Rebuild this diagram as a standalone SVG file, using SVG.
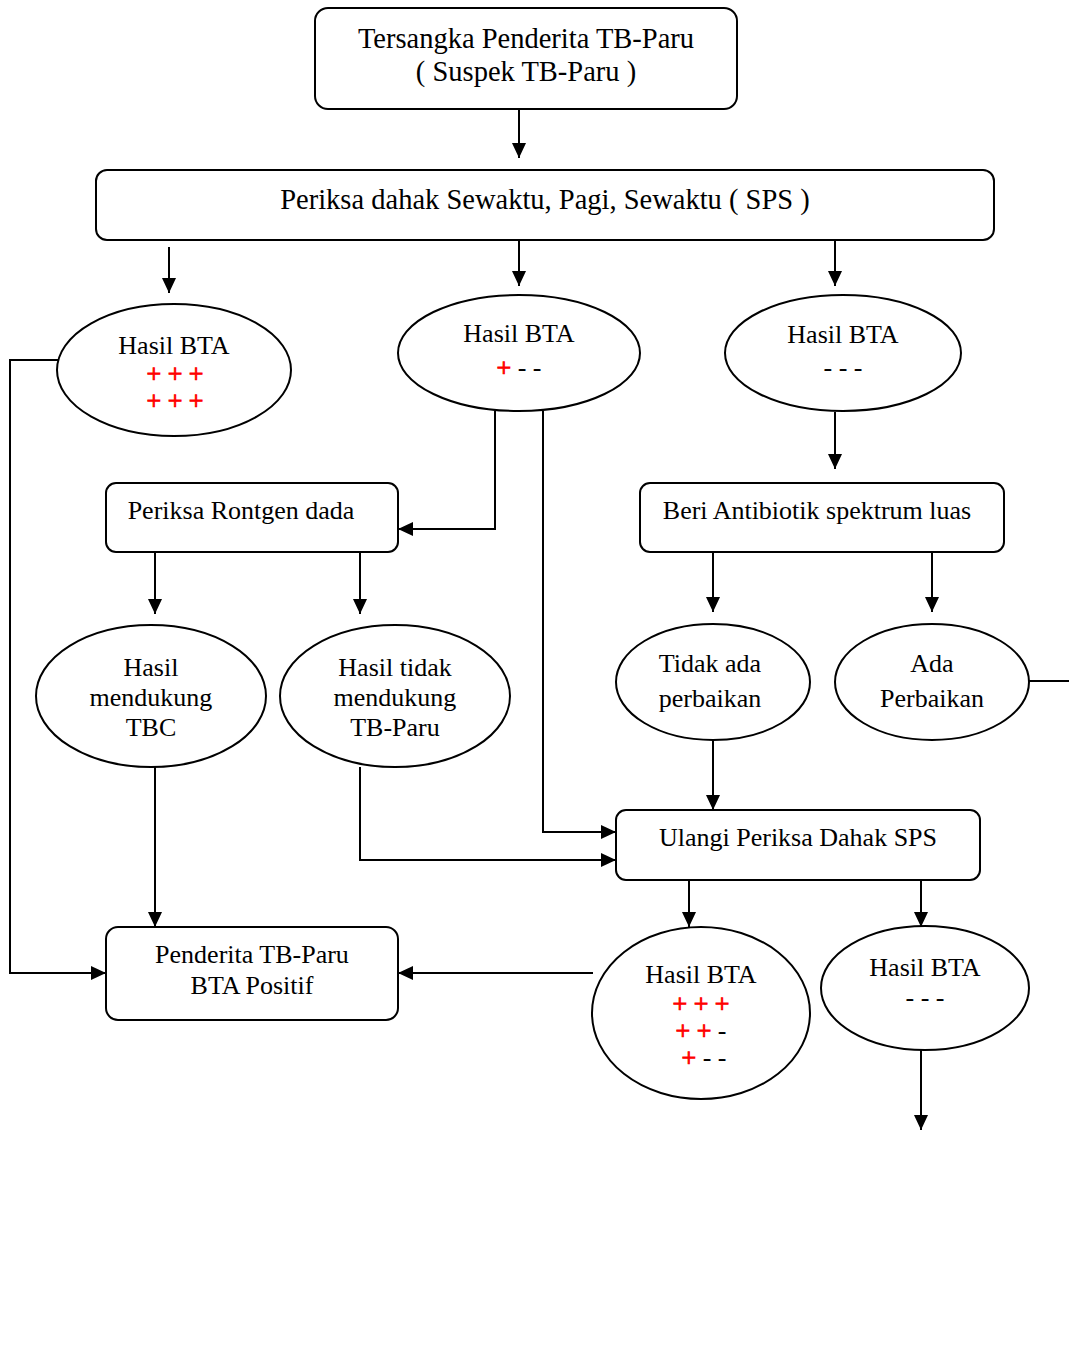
<svg xmlns="http://www.w3.org/2000/svg" width="1069" height="1364" viewBox="0 0 1069 1364">
  <style>
    .box { fill: #fff; stroke: #000; stroke-width: 2; }
    .ell { fill: #fff; stroke: #000; stroke-width: 2; }
    .t { font-family: "Liberation Serif", "Times New Roman", serif; font-size: 26px; fill: #000; text-anchor: middle; }
    .big { font-size: 28.5px; }
    .r { fill: #ff0000; stroke: #ff0000; stroke-width: 0.9; }
    .ln { fill: none; stroke: #000; stroke-width: 2; }
    .arr { fill: none; stroke: #000; stroke-width: 2; marker-end: url(#ah); }
  </style>
  <defs>
    <marker id="ah" markerUnits="userSpaceOnUse" markerWidth="16" markerHeight="14" refX="15" refY="7" orient="auto">
      <path d="M0,0 L15,7 L0,14 Z" fill="#000"/>
    </marker>
  </defs>
  <rect width="1069" height="1364" fill="#fff"/>

  <!-- connectors -->
  <g id="connectors">
    <line class="arr" x1="519" y1="109" x2="519" y2="158"/>
    <line class="arr" x1="169" y1="247" x2="169" y2="293"/>
    <line class="arr" x1="519" y1="240" x2="519" y2="286"/>
    <line class="arr" x1="835" y1="240" x2="835" y2="286"/>
    <polyline class="arr" points="58,360 10,360 10,973 106,973"/>
    <polyline class="arr" points="495,411 495,529 398,529"/>
    <polyline class="arr" points="543,411 543,832 616,832"/>
    <line class="arr" x1="835" y1="412" x2="835" y2="469"/>
    <line class="arr" x1="155" y1="552" x2="155" y2="614"/>
    <line class="arr" x1="360" y1="552" x2="360" y2="614"/>
    <line class="arr" x1="713" y1="552" x2="713" y2="612"/>
    <line class="arr" x1="932" y1="552" x2="932" y2="612"/>
    <line class="ln" x1="1028" y1="681" x2="1069" y2="681"/>
    <line class="arr" x1="155" y1="767" x2="155" y2="927"/>
    <polyline class="arr" points="360,767 360,860 616,860"/>
    <line class="arr" x1="713" y1="740" x2="713" y2="810"/>
    <line class="arr" x1="689" y1="880" x2="689" y2="927"/>
    <line class="arr" x1="921" y1="880" x2="921" y2="927"/>
    <line class="arr" x1="593" y1="973" x2="398" y2="973"/>
    <line class="arr" x1="921" y1="1050" x2="921" y2="1130"/>
  </g>

  <g id="suspek">
    <rect class="box" x="315" y="8" width="422" height="101" rx="13"/>
    <text class="t big" x="526" y="48">Tersangka Penderita TB-Paru</text>
    <text class="t big" x="526" y="81">( Suspek TB-Paru )</text>
  </g>

  <g id="periksa-sps">
    <rect class="box" x="96" y="170" width="898" height="70" rx="11"/>
    <text class="t big" x="545" y="209">Periksa dahak Sewaktu, Pagi, Sewaktu ( SPS )</text>
  </g>

  <g id="bta-positif-1">
    <ellipse class="ell" cx="174" cy="370" rx="117" ry="66"/>
    <text class="t" x="174" y="354">Hasil BTA</text>
    <text class="t r" x="175" y="382">+ + +</text>
    <text class="t r" x="175" y="409">+ + +</text>
  </g>

  <g id="bta-satu-positif">
    <ellipse class="ell" cx="519" cy="353" rx="121" ry="58"/>
    <text class="t" x="519" y="342">Hasil BTA</text>
    <text class="t" x="519" y="376"><tspan class="r">+</tspan> - -</text>
  </g>

  <g id="bta-negatif-1">
    <ellipse class="ell" cx="843" cy="353" rx="118" ry="58"/>
    <text class="t" x="843" y="343">Hasil BTA</text>
    <text class="t" x="843" y="376">- - -</text>
  </g>

  <g id="rontgen">
    <rect class="box" x="106" y="483" width="292" height="69" rx="10"/>
    <text class="t" x="241" y="519">Periksa Rontgen dada</text>
  </g>

  <g id="antibiotik">
    <rect class="box" x="640" y="483" width="364" height="69" rx="10"/>
    <text class="t" x="817" y="519">Beri Antibiotik spektrum luas</text>
  </g>

  <g id="mendukung">
    <ellipse class="ell" cx="151" cy="696" rx="115" ry="71"/>
    <text class="t" x="151" y="676">Hasil</text>
    <text class="t" x="151" y="706">mendukung</text>
    <text class="t" x="151" y="736">TBC</text>
  </g>

  <g id="tidak-mendukung">
    <ellipse class="ell" cx="395" cy="696" rx="115" ry="71"/>
    <text class="t" x="395" y="676">Hasil tidak</text>
    <text class="t" x="395" y="706">mendukung</text>
    <text class="t" x="395" y="736">TB-Paru</text>
  </g>

  <g id="tidak-ada-perbaikan">
    <ellipse class="ell" cx="713" cy="682" rx="97" ry="58"/>
    <text class="t" x="710" y="672">Tidak ada</text>
    <text class="t" x="710" y="707">perbaikan</text>
  </g>

  <g id="ada-perbaikan">
    <ellipse class="ell" cx="932" cy="682" rx="97" ry="58"/>
    <text class="t" x="932" y="672">Ada</text>
    <text class="t" x="932" y="707">Perbaikan</text>
  </g>

  <g id="ulangi-sps">
    <rect class="box" x="616" y="810" width="364" height="70" rx="10"/>
    <text class="t" x="798" y="846">Ulangi Periksa Dahak SPS</text>
  </g>

  <g id="penderita-positif">
    <rect class="box" x="106" y="927" width="292" height="93" rx="12"/>
    <text class="t" x="252" y="963">Penderita TB-Paru</text>
    <text class="t" x="252" y="994">BTA Positif</text>
  </g>

  <g id="bta-positif-2">
    <ellipse class="ell" cx="701" cy="1013" rx="109" ry="86"/>
    <text class="t" x="701" y="983">Hasil BTA</text>
    <text class="t r" x="701" y="1012">+ + +</text>
    <text class="t" x="701" y="1039"><tspan class="r">+ +</tspan> -</text>
    <text class="t" x="704" y="1066"><tspan class="r">+</tspan> -  -</text>
  </g>

  <g id="bta-negatif-2">
    <ellipse class="ell" cx="925" cy="988" rx="104" ry="62"/>
    <text class="t" x="925" y="976">Hasil BTA</text>
    <text class="t" x="925" y="1006">- - -</text>
  </g>
</svg>
